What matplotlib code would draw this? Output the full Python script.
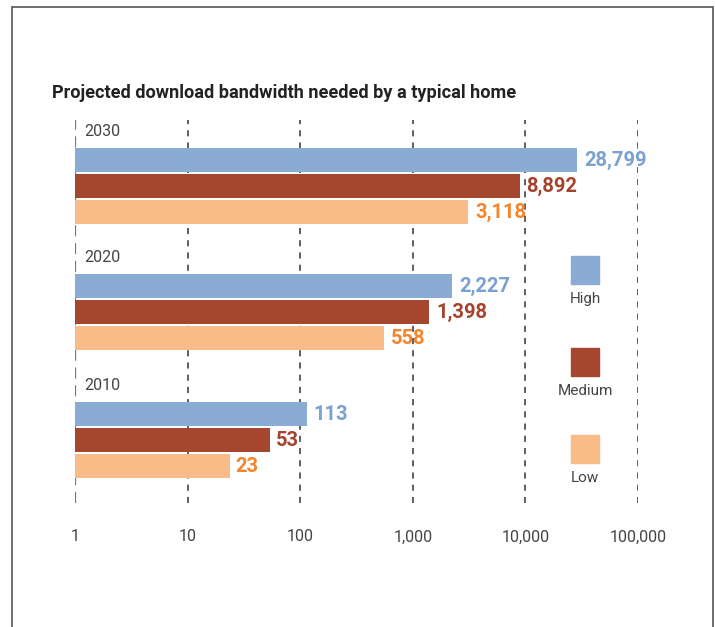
import matplotlib
matplotlib.use("Agg")
import matplotlib.pyplot as plt
from matplotlib.patches import Rectangle

# ===============================
# DATA
# ===============================
years = ["2030", "2020", "2010"]
series = ["High", "Medium", "Low"]
high = [28799, 2227, 113]
medium = [8892, 1398, 53]
low = [3118, 558, 23]
tick_values = [1, 10, 100, 1000, 10000, 100000]
tick_labels = ["1", "10", "100", "1,000", "10,000", "100,000"]
title = "Projected download bandwidth needed by a typical home"

# ===============================
# STYLE
# ===============================
plt.rcParams["font.family"] = ["Roboto", "DejaVu Sans"]

bar_colors = ["#8aabd4", "#a5472f", "#f9bb88"]
label_colors = ["#7aa1d2", "#a5432c", "#f5842a"]
text_gray = "#444444"

W, H = 715, 627
fig = plt.figure(figsize=(W / 100, H / 100), dpi=100)

# outer frame (bottom edge runs off the page)
fig.patches.append(Rectangle((12 / W, -0.05), (713 - 12) / W, (H - 7) / H + 0.05,
                             transform=fig.transFigure, fill=False,
                             edgecolor="#555555", linewidth=1.2))

# axes: pixel-like y coordinates, log x
ax_top, ax_bot = 120, 503
ax = fig.add_axes([75 / W, 1 - ax_bot / H, (638 - 75) / W, (ax_bot - ax_top) / H])
ax.set_xscale("log")
ax.set_xlim(1, 100000)
ax.set_ylim(ax_bot, ax_top)
for s in ax.spines.values():
    s.set_visible(False)
ax.set_yticks([])
ax.minorticks_off()
ax.set_xticks(tick_values)
ax.set_xticklabels(tick_labels, fontsize=11.5, color=text_gray)
ax.tick_params(axis="x", length=0, pad=19)

for v in tick_values:
    if v == 1:
        ax.axvline(v, color="#777777", linestyle=(0, (5, 3)),
                   linewidth=1.6, zorder=0)
    else:
        ax.axvline(v, color="#333333", linestyle=(0, (4, 4)),
                   linewidth=1.1, zorder=0)

group_centers = [186, 312, 440]
offsets = [-26, 0, 26]
bar_h = 24

for si, vals in enumerate([high, medium, low]):
    ys = [c + offsets[si] for c in group_centers]
    ax.barh(ys, vals, height=bar_h, left=1, color=bar_colors[si], zorder=2)
    for y, v in zip(ys, vals):
        ax.annotate(f"{v:,}", (v, y), xytext=(5, 0), textcoords="offset points",
                    ha="left", va="center", fontsize=14.5, fontweight="bold",
                    color=label_colors[si], zorder=3)

for yr, c in zip(years, group_centers):
    ax.annotate(yr, (1, c - 55), xytext=(7, 0), textcoords="offset points",
                ha="left", va="center", fontsize=11.5, color=text_gray)

fig.text(52 / W, 1 - 93 / H, title, ha="left", va="center",
         fontsize=13.1, fontweight="bold", color="#222222")

# legend
leg_y = [256, 348, 435]
for name, col, y in zip(series, bar_colors, leg_y):
    fig.patches.append(Rectangle((571 / W, 1 - (y + 28) / H), 28 / W, 28 / H,
                                 transform=fig.transFigure, color=col))
    fig.text(585 / W, 1 - (y + 43) / H, name, ha="center", va="center",
             fontsize=11, color=text_gray)

fig.savefig("out.png", dpi=100)
